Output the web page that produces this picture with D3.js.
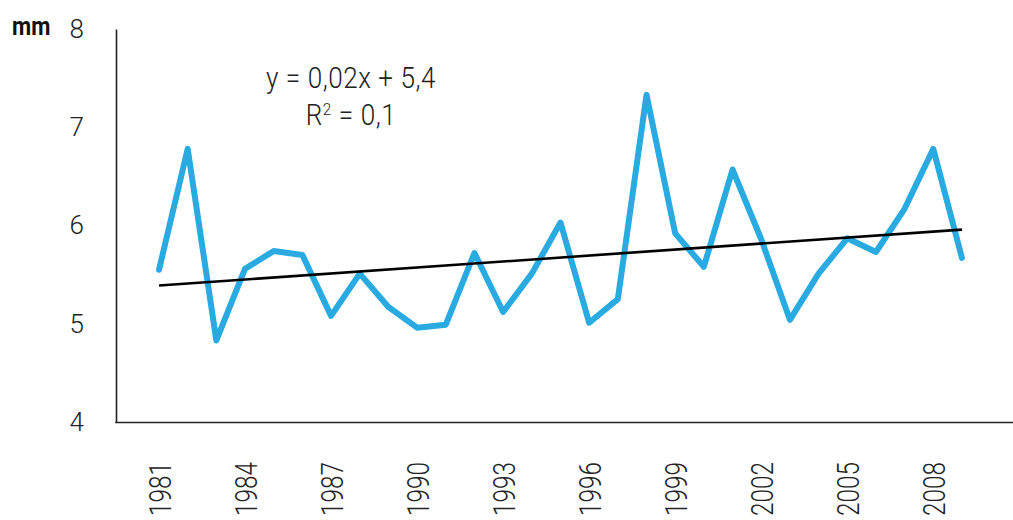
<!DOCTYPE html>
<html>
<head>
<meta charset="utf-8">
<script src="https://cdn.jsdelivr.net/npm/d3@7"></script>
<style>
  html, body { margin: 0; padding: 0; background: #fff; overflow: hidden; }
  svg { display: block; font-family: Roboto, "Liberation Sans", sans-serif; }
</style>
</head>
<body>
<svg id="chart" width="1013" height="520"></svg>
<script>
// Annual series (mm)
const years = d3.range(1981, 2010);
const values = [5.55, 6.78, 4.83, 5.56, 5.74, 5.70, 5.08, 5.51, 5.17, 4.96,
                4.99, 5.72, 5.12, 5.51, 6.03, 5.01, 5.25, 7.33, 5.92, 5.58,
                6.57, 5.86, 5.04, 5.51, 5.87, 5.73, 6.17, 6.78, 5.67];
const yTicks = [4, 5, 6, 7, 8];
const xTickYears = [1981, 1984, 1987, 1990, 1993, 1996, 1999, 2002, 2005, 2008];
const unitLabel = "mm";
const equationLabel = "y = 0,02x + 5,4";
const r2Value = "0,1";

const svg = d3.select("#chart");
const W = 1013;
const plotLeft = 116, plotTop = 29, plotBottom = 422;

const x = d3.scaleLinear().domain([1979.5, 2010.78]).range([plotLeft, W]);
const y = d3.scaleLinear().domain([4, 8]).range([plotBottom, plotTop]);

// Y axis
const gy = svg.append("g")
  .attr("transform", `translate(${plotLeft},0)`)
  .call(d3.axisLeft(y).tickValues(yTicks).tickSize(0).tickPadding(32).tickFormat(d3.format("d")));
gy.select(".domain").attr("stroke", "#222").attr("stroke-width", 1.6);
gy.selectAll("text")
  .attr("font-size", 26)
  .attr("font-weight", 300)
  .attr("font-family", "Roboto, sans-serif")
  .attr("fill", "#222");

// X axis (baseline runs to the right edge of the drawing)
const gx = svg.append("g")
  .attr("transform", `translate(0,${plotBottom})`)
  .call(d3.axisBottom(x).tickValues(xTickYears).tickSize(0).tickSizeOuter(0).tickFormat(d3.format("d")));
gx.select(".domain").remove();
gx.append("line")
  .attr("x1", plotLeft - 0.8).attr("x2", W + 20)
  .attr("y1", 0.5).attr("y2", 0.5)
  .attr("stroke", "#222").attr("stroke-width", 1.6);
gx.selectAll("text")
  .attr("font-size", 32)
  .attr("font-weight", 300)
  .attr("font-family", "Roboto, sans-serif")
  .attr("fill", "#222")
  .attr("text-anchor", "end")
  .attr("x", 0)
  .attr("y", 0)
  .attr("dy", "0.36em")
  .attr("transform", "translate(0,40) rotate(-90) scale(0.76,1)");

// Unit label
svg.append("g")
  .attr("transform", "translate(12,35) scale(0.85,1)")
  .append("text")
  .attr("font-size", 26)
  .attr("font-weight", "bold")
  .attr("fill", "#111")
  .text(unitLabel);

// Data line
const line = d3.line()
  .x((d, i) => x(years[i]))
  .y(d => y(d));

svg.append("path")
  .datum(values)
  .attr("fill", "none")
  .attr("stroke", "#29ABE2")
  .attr("stroke-width", 6)
  .attr("stroke-linejoin", "round")
  .attr("stroke-linecap", "round")
  .attr("d", line);

// Linear trend (least squares on index 1..n)
const idx = values.map((d, i) => i + 1);
const mx = d3.mean(idx), my = d3.mean(values);
const slope = d3.sum(idx, (t, i) => (t - mx) * (values[i] - my)) / d3.sum(idx, t => (t - mx) ** 2);
const intercept = my - slope * mx;
const trend = [idx[0], idx[idx.length - 1]].map(t => ({ year: years[t - 1], v: intercept + slope * t }));

svg.append("path")
  .datum(trend)
  .attr("fill", "none")
  .attr("stroke", "#000")
  .attr("stroke-width", 2.6)
  .attr("d", d3.line().x(d => x(d.year)).y(d => y(d.v)));

// Trend equation
const eq = svg.append("g").attr("transform", "translate(351,88) scale(0.9,1)");
eq.append("text")
  .attr("text-anchor", "middle")
  .attr("font-size", 29)
  .attr("font-weight", 300)
  .attr("letter-spacing", 0.6)
  .attr("fill", "#222")
  .attr("xml:space", "preserve")
  .text(equationLabel);

const r2 = svg.append("g").attr("transform", "translate(351,125) scale(0.9,1)");
const r2t = r2.append("text")
  .attr("text-anchor", "middle")
  .attr("font-size", 29)
  .attr("font-weight", 300)
  .attr("letter-spacing", 0.6)
  .attr("fill", "#222");
r2t.append("tspan").text("R");
r2t.append("tspan").attr("font-size", 17).attr("dy", -10).text("2");
r2t.append("tspan").attr("dy", 10).text(" = " + r2Value);
</script>
</body>
</html>
